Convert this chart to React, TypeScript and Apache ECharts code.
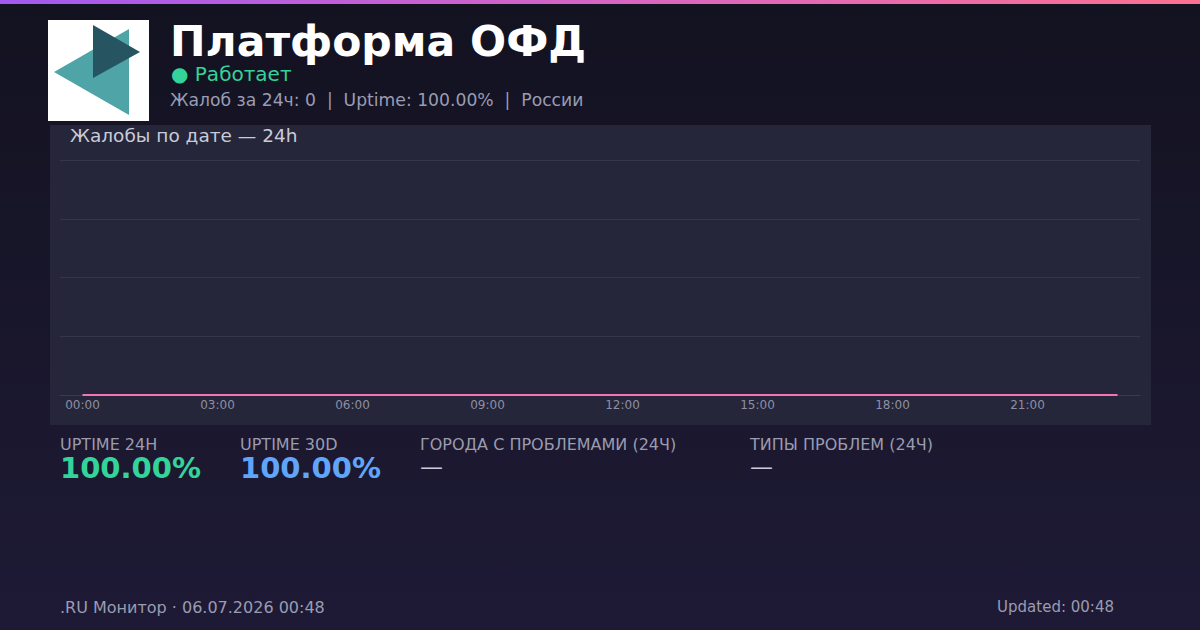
import React, { useEffect, useRef } from "react";
import * as echarts from "echarts";

const hours: string[] = [
  "00:00", "01:00", "02:00", "03:00", "04:00", "05:00", "06:00", "07:00",
  "08:00", "09:00", "10:00", "11:00", "12:00", "13:00", "14:00", "15:00",
  "16:00", "17:00", "18:00", "19:00", "20:00", "21:00", "22:00", "23:00",
];
const complaints: number[] = [0, 0, 0, 0, 0, 0, 0, 0, 0, 0, 0, 0, 0, 0, 0, 0, 0, 0, 0, 0, 0, 0, 0, 0];

const titleText = "Платформа ОФД";
const statusText = "● Работает";
const subtitleText = "Жалоб за 24ч: 0  |  Uptime: 100.00%  |  России";
const chartTitle = "Жалобы по дате — 24h";
const statLabels: string[] = ["UPTIME 24H", "UPTIME 30D", "ГОРОДА С ПРОБЛЕМАМИ (24Ч)", "ТИПЫ ПРОБЛЕМ (24Ч)"];
const statValues: string[] = ["100.00%", "100.00%", "—", "—"];
const footerLeft = ".RU Монитор · 06.07.2026 00:48";
const footerRight = "Updated: 00:48";

const FONT = "DejaVu Sans";

function txt(x: number, y: number, text: string, fill: string, font: string, size: number, align = "left"): any {
  return {
    type: "text",
    style: {
      x, y, text, fill,
      font: `${font} ${size}px "${FONT}"`,
      lineHeight: size,
      align,
      verticalAlign: "middle",
      whiteSpace: "pre",
    },
  };
}

export default function App() {
  const ref = useRef<HTMLDivElement>(null);
  useEffect(() => {
    document.body.style.margin = "0";
    if (!ref.current) return;
    const chart = echarts.init(ref.current, undefined, { renderer: "svg", width: 1200, height: 630 });
    const statX = [60, 240, 420, 750];
    const statColors = ["#34d399", "#60a5fa", "#c9cbd9", "#c9cbd9"];
    const graphics: any[] = [
      {
        type: "rect", z: -10, silent: true,
        shape: { x: 0, y: 0, width: 1200, height: 630 },
        style: {
          fill: new echarts.graphic.LinearGradient(0, 0, 0, 1, [
            { offset: 0, color: "#131220" },
            { offset: 1, color: "#1e1a36" },
          ]),
        },
      },
      {
        type: "rect", z: -5, silent: true,
        shape: { x: 0, y: 0, width: 1200, height: 4 },
        style: {
          fill: new echarts.graphic.LinearGradient(0, 0, 1, 0, [
            { offset: 0, color: "#a259f0" },
            { offset: 0.5, color: "#d665c4" },
            { offset: 1, color: "#fb7190" },
          ]),
        },
      },
      {
        type: "rect", z: -5, silent: true,
        shape: { x: 48, y: 20, width: 101, height: 101 },
        style: { fill: "#ffffff" },
      },
      {
        type: "polygon", z: -4, silent: true,
        shape: { points: [[54, 72], [129, 29], [129, 115]] },
        style: { fill: "#4ea4a6" },
      },
      {
        type: "polygon", z: -3, silent: true,
        shape: { points: [[93, 25], [93, 78], [140, 52]] },
        style: { fill: "#265561" },
      },
      {
        type: "rect", z: -5, silent: true,
        shape: { x: 50, y: 125, width: 1101, height: 300 },
        style: { fill: "#25263a" },
      },
      txt(170, 41, titleText, "#ffffff", "bold", 42.5),
      txt(171, 74, statusText, "#34d399", "normal", 20),
      txt(170, 100, subtitleText, "#9a9cb3", "normal", 17.2),
      txt(70, 135, chartTitle, "#c9cbd9", "normal", 18.5),
      txt(60, 607, footerLeft, "#9a9cb0", "normal", 16),
      txt(1114, 607, footerRight, "#9a9cb0", "normal", 15, "right"),
    ];
    statLabels.forEach((l, i) => {
      graphics.push(txt(statX[i], 444, l, "#9a9cb0", "normal", 16));
      const isDash = statValues[i] === "—";
      graphics.push(
        isDash
          ? txt(statX[i], 467, statValues[i], statColors[i], "normal", 23)
          : txt(statX[i], 468, statValues[i], statColors[i], "bold", 29)
      );
    });

    chart.setOption({
      animation: false,
      textStyle: { fontFamily: FONT },
      grid: { left: 60, right: 60, top: 160, bottom: 235, containLabel: false },
      xAxis: {
        type: "category",
        data: hours,
        boundaryGap: true,
        axisLine: { lineStyle: { color: "#3a3b50" } },
        axisTick: { show: false },
        axisLabel: { interval: 2, color: "#8d8fa3", fontSize: 12, margin: 4 },
        splitLine: { show: false },
      },
      yAxis: {
        type: "value",
        min: 0, max: 4, interval: 1,
        axisLine: { show: false },
        axisTick: { show: false },
        axisLabel: { show: false },
        splitLine: { lineStyle: { color: "#35364a", width: 1 } },
      },
      series: [
        {
          type: "line",
          data: complaints,
          symbol: "none",
          lineStyle: { color: "#f472b6", width: 2 },
          z: 5,
        },
      ],
      graphic: graphics,
    });
    return () => chart.dispose();
  }, []);
  return <div ref={ref} style={{ width: 1200, height: 630, position: "absolute", left: 0, top: 0 }} />;
}
